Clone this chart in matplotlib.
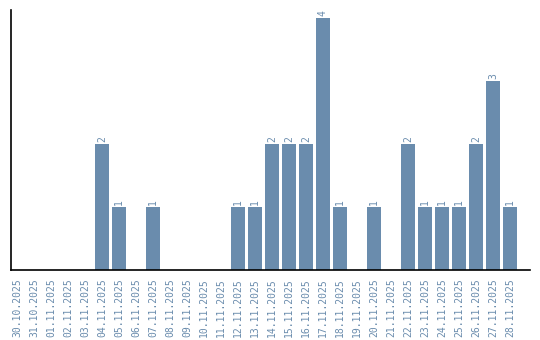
import matplotlib
matplotlib.use("Agg")
import matplotlib.pyplot as plt

dates = ["30.10.2025", "31.10.2025", "01.11.2025", "02.11.2025", "03.11.2025",
         "04.11.2025", "05.11.2025", "06.11.2025", "07.11.2025", "08.11.2025",
         "09.11.2025", "10.11.2025", "11.11.2025", "12.11.2025", "13.11.2025",
         "14.11.2025", "15.11.2025", "16.11.2025", "17.11.2025", "18.11.2025",
         "19.11.2025", "20.11.2025", "21.11.2025", "22.11.2025", "23.11.2025",
         "24.11.2025", "25.11.2025", "26.11.2025", "27.11.2025", "28.11.2025"]
counts = [0, 0, 0, 0, 0, 2, 1, 0, 1, 0, 0, 0, 0, 1, 1, 2, 2, 2, 4, 1,
          0, 1, 0, 2, 1, 1, 1, 2, 3, 1]

color = "#6a8cad"
fig = plt.figure(figsize=(5.4, 3.4), dpi=100)
ax = fig.add_axes([11/540, 70/340, 519/540, 260/340])
x = list(range(len(dates)))
ax.bar(x, counts, width=0.82, color=color)
for xi, v in zip(x, counts):
    if v > 0:
        ax.text(xi, v + 0.03, str(v), rotation=90, ha="center", va="bottom",
                color=color, fontsize=7, family="DejaVu Sans Mono")
ax.set_xlim(-0.35, 30.18)
ax.set_ylim(0, 4.13)
ax.set_xticks(x)
ax.set_xticklabels(dates, rotation=90, color=color, fontsize=7, family="DejaVu Sans Mono")
ax.tick_params(axis="x", length=0, pad=6)
ax.set_yticks([])
for s in ["top", "right"]:
    ax.spines[s].set_visible(False)
ax.spines["left"].set_linewidth(1.2)
ax.spines["bottom"].set_linewidth(1.2)
fig.savefig("out.png", dpi=100)
